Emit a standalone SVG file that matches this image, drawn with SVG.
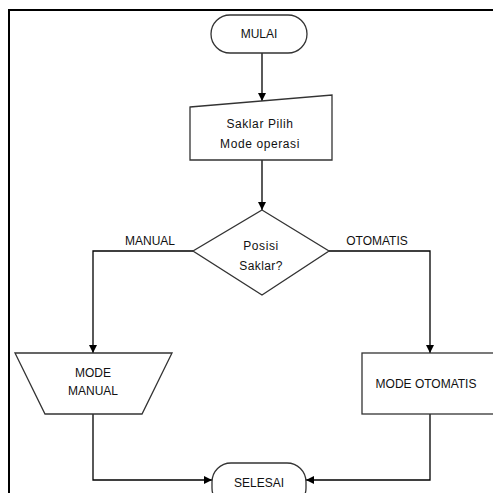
<svg xmlns="http://www.w3.org/2000/svg" width="493" height="493" viewBox="0 0 493 493">
  <defs>
    <marker id="arrow" viewBox="0 0 10 10" refX="10" refY="5" markerWidth="8" markerHeight="8" markerUnits="userSpaceOnUse" orient="auto">
      <path d="M0,0 L10,5 L0,10 z" fill="#000"/>
    </marker>
    <style>
      .shape { fill: #fff; stroke: #333; stroke-width: 1.3; }
      .link { fill: none; stroke: #000; stroke-width: 1.3; marker-end: url(#arrow); }
      .plain { fill: none; stroke: #000; stroke-width: 1.3; }
      text { font-family: "Liberation Sans", Arial, sans-serif; font-size: 12px; fill: #111; text-anchor: middle; }
    </style>
  </defs>
  <rect width="493" height="493" fill="#fff"/>
  <!-- page frame -->
  <path d="M9,500 V10 H500" fill="none" stroke="#000" stroke-width="2"/>

  <g id="connectors">
    <path class="link" d="M262,53 V101"/>
    <path class="link" d="M262,160 V210"/>
    <path class="link" d="M193,251 H93 V353"/>
    <path class="link" d="M329,251 H430 V353"/>
    <path class="link" d="M93,414 V480 H212"/>
    <path class="link" d="M430,414 V480 H306"/>
    <text x="150" y="245">MANUAL</text>
    <text x="377" y="245">OTOMATIS</text>
  </g>

  <g id="mulai">
    <rect class="shape" x="211" y="15" width="96" height="38" rx="19"/>
    <text x="259" y="38">MULAI</text>
  </g>

  <g id="saklar-pilih">
    <path class="shape" d="M190,107 L332,95 V160 H190 Z"/>
    <text x="260" y="128" letter-spacing="0.6">Saklar Pilih</text>
    <text x="260" y="148" letter-spacing="0.6">Mode operasi</text>
  </g>

  <g id="posisi-saklar">
    <path class="shape" d="M262,210 L329,251 L262,295 L193,251 Z"/>
    <text x="261" y="250" letter-spacing="0.6">Posisi</text>
    <text x="261" y="270" letter-spacing="0.4">Saklar?</text>
  </g>

  <g id="mode-manual">
    <path class="shape" d="M15,353 H172 L142,414 H45 Z"/>
    <text x="93" y="377">MODE</text>
    <text x="93" y="395">MANUAL</text>
  </g>

  <g id="mode-otomatis">
    <rect class="shape" x="362" y="353" width="140" height="61"/>
    <text x="426" y="388">MODE OTOMATIS</text>
  </g>

  <g id="selesai">
    <rect class="shape" x="212" y="463" width="94" height="44" rx="19"/>
    <text x="259" y="487">SELESAI</text>
  </g>
</svg>
